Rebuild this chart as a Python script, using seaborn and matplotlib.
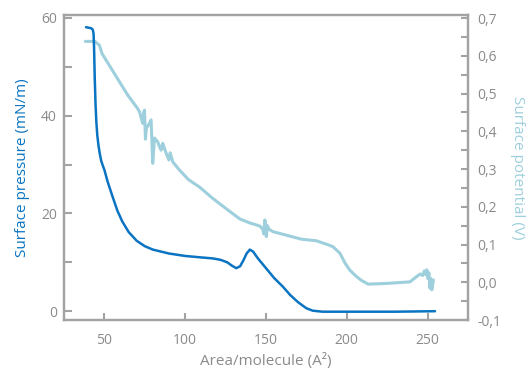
import numpy as np
import pandas as pd
import seaborn as sns
import matplotlib
matplotlib.use("Agg")
import matplotlib.pyplot as plt
from matplotlib.ticker import MultipleLocator, FuncFormatter

# ---- data ----
area_p = [38.6, 41.8, 42.8, 43.3, 43.6, 44.0, 44.5, 45.0, 45.6, 46.3, 47.1, 48.0,
          49.0, 50.0, 52.0, 55.0, 58.0, 61.0, 65.0, 70.0, 75.0, 80.0, 90.0,
          100.0, 110.0, 117.1, 122.0, 126.0, 129.0, 131.6, 134.0, 136.0, 138.0,
          140.0, 142.0, 145.0, 150.0, 155.0, 160.5, 165.0, 170.0, 175.0, 179.0,
          185.0, 200.0, 230.0, 254.6]
pressure = [58.1, 57.9, 57.6, 56.8, 54.0, 48.0, 42.5, 38.8, 36.0, 34.0, 32.3, 30.8,
            29.8, 28.9, 26.5, 23.5, 20.6, 18.4, 16.2, 14.4, 13.3, 12.6, 11.8,
            11.3, 11.0, 10.8, 10.5, 10.0, 9.3, 8.8, 9.2, 10.4, 11.8,
            12.6, 12.2, 10.8, 8.8, 6.8, 5.0, 3.3, 1.8, 0.6, 0.1,
            -0.1, -0.1, -0.1, 0.0]

area_v = [38.2, 44.1, 46.9, 48.5, 55.0, 64.4, 70.6, 71.7, 73.7, 74.3, 74.8, 75.4,
          76.0, 76.8, 78.9, 79.9, 81.0, 83.0, 84.0, 85.1, 86.1, 88.2, 89.9, 90.7,
          92.3, 96.5, 102.0, 108.9, 117.1, 125.0, 133.7, 140.0, 144.0, 146.5,
          148.0, 148.7, 149.2, 149.6, 150.2, 150.8, 152.0, 154.3, 165.0, 172.0,
          181.0, 188.0, 191.5, 195.7, 199.0, 201.9, 206.0, 209.0, 213.2, 225.0,
          239.1, 243.2, 245.5, 247.0, 248.0, 249.0, 249.5, 250.2, 250.8, 251.5,
          252.0, 252.6, 253.6]
potential = [0.638, 0.638, 0.628, 0.606, 0.561, 0.496, 0.460, 0.452, 0.421, 0.450,
             0.456, 0.379, 0.410, 0.413, 0.430, 0.315, 0.382, 0.372, 0.360, 0.350,
             0.368, 0.342, 0.324, 0.343, 0.319, 0.297, 0.272, 0.252, 0.222, 0.196,
             0.168, 0.157, 0.152, 0.148, 0.140, 0.128, 0.165, 0.160, 0.121, 0.150,
             0.140, 0.134, 0.122, 0.114, 0.110, 0.100, 0.094, 0.077, 0.050, 0.032,
             0.015, 0.005, -0.005, -0.003, 0.001, 0.015, 0.022, 0.018, 0.030,
             0.020, 0.033, 0.010, 0.025, -0.016, 0.010, -0.020, 0.006]

x_ticks = [50, 100, 150, 200, 250]
xlabel = "Area/molecule (A\u00b2)"
ylabel_left = "Surface pressure (mN/m)"
ylabel_right = "Surface potential (V)"

DARK = "#0a74c2"
LIGHT = "#9dcfdc"
GRAY = "#a3a3a3"
TXT = "#8a8a8a"

sns.set_style("white")
plt.rcParams["font.family"] = ["Open Sans", "DejaVu Sans"]

fig = plt.figure(figsize=(5.28, 3.71), dpi=100)
ax = fig.add_axes([64 / 528, 51 / 371, 404 / 528, 305 / 371])
ax2 = ax.twinx()

df_p = pd.DataFrame({"area": area_p, "val": pressure})
df_v = pd.DataFrame({"area": area_v, "val": potential})

sns.lineplot(data=df_v, x="area", y="val", ax=ax2, color=LIGHT, lw=2.2,
             sort=False, estimator=None)
sns.lineplot(data=df_p, x="area", y="val", ax=ax, color=DARK, lw=1.8,
             sort=False, estimator=None)

ax.set_zorder(ax2.get_zorder() + 1)
ax.patch.set_visible(False)

ax.set_xlim(25, 275)
ax.set_ylim(-1.8, 60.6)
ax2.set_ylim(-0.1, 0.708)

ax.set_xticks(x_ticks)
ax.yaxis.set_major_locator(MultipleLocator(20))
ax.yaxis.set_minor_locator(MultipleLocator(10))
ax2.yaxis.set_major_locator(MultipleLocator(0.1))
ax2.yaxis.set_minor_locator(MultipleLocator(0.05))
ax2.yaxis.set_major_formatter(FuncFormatter(lambda v, p: f"{v:.1f}".replace(".", ",")))

for a in (ax, ax2):
    for s in a.spines.values():
        s.set_color(GRAY)
        s.set_linewidth(1.6)

ax.tick_params(axis="x", which="both", direction="in", length=5, width=1.5,
               color=GRAY, labelcolor=TXT, labelsize=10, pad=9, bottom=True)
ax.tick_params(axis="y", which="major", direction="in", length=6, width=1.5,
               color=GRAY, labelcolor=TXT, labelsize=10, pad=5, left=True)
ax.tick_params(axis="y", which="minor", direction="in", length=6, width=1.5,
               color=GRAY, left=True)
ax2.tick_params(axis="y", which="major", direction="in", length=5, width=1.5,
                color=GRAY, labelcolor=TXT, labelsize=10, pad=7, right=True)
ax2.tick_params(axis="y", which="minor", direction="in", length=5, width=1.5,
                color=GRAY, right=True)

ax.set_xlabel(xlabel, color=TXT, fontsize=11, labelpad=4)
ax.set_ylabel(ylabel_left, color=DARK, fontsize=11, labelpad=8)
ax2.set_ylabel(ylabel_right, color=LIGHT, fontsize=11, rotation=270, labelpad=17)

fig.savefig("out.png", dpi=100)
